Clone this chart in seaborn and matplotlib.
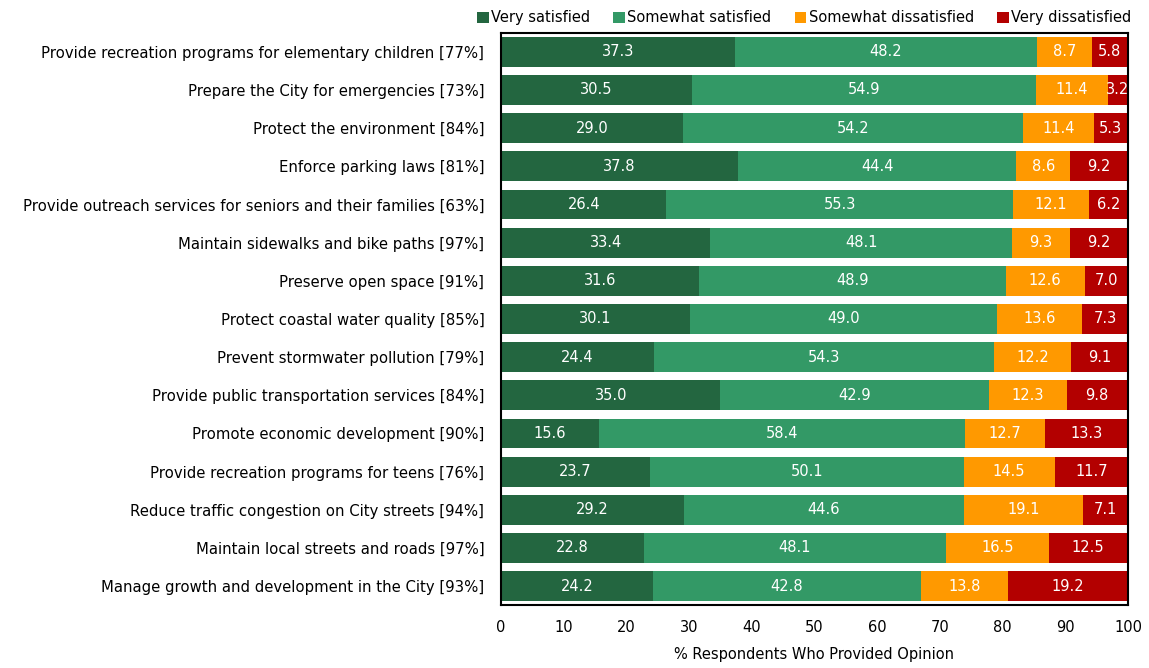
import numpy as np
import pandas as pd
import matplotlib
matplotlib.use("Agg")
import matplotlib.pyplot as plt
import seaborn as sns
from matplotlib.patches import Patch

categories = [
    "Provide recreation programs for elementary children [77%]",
    "Prepare the City for emergencies [73%]",
    "Protect the environment [84%]",
    "Enforce parking laws [81%]",
    "Provide outreach services for seniors and their families [63%]",
    "Maintain sidewalks and bike paths [97%]",
    "Preserve open space [91%]",
    "Protect coastal water quality [85%]",
    "Prevent stormwater pollution [79%]",
    "Provide public transportation services [84%]",
    "Promote economic development [90%]",
    "Provide recreation programs for teens [76%]",
    "Reduce traffic congestion on City streets [94%]",
    "Maintain local streets and roads [97%]",
    "Manage growth and development in the City [93%]",
]
very_satisfied = [37.3, 30.5, 29.0, 37.8, 26.4, 33.4, 31.6, 30.1, 24.4, 35.0, 15.6, 23.7, 29.2, 22.8, 24.2]
somewhat_satisfied = [48.2, 54.9, 54.2, 44.4, 55.3, 48.1, 48.9, 49.0, 54.3, 42.9, 58.4, 50.1, 44.6, 48.1, 42.8]
somewhat_dissatisfied = [8.7, 11.4, 11.4, 8.6, 12.1, 9.3, 12.6, 13.6, 12.2, 12.3, 12.7, 14.5, 19.1, 16.5, 13.8]
very_dissatisfied = [5.8, 3.2, 5.3, 9.2, 6.2, 9.2, 7.0, 7.3, 9.1, 9.8, 13.3, 11.7, 7.1, 12.5, 19.2]

series_names = ["Very satisfied", "Somewhat satisfied", "Somewhat dissatisfied", "Very dissatisfied"]
colors = ["#236640", "#339966", "#ff9900", "#b30000"]
x_ticks = [0, 10, 20, 30, 40, 50, 60, 70, 80, 90, 100]

sns.set_theme(style="white")
plt.rcParams["font.family"] = ["DejaVu Sans"]
plt.rcParams.update({"text.color": "black", "axes.labelcolor": "black",
                     "xtick.color": "black", "ytick.color": "black"})

series = [very_satisfied, somewhat_satisfied, somewhat_dissatisfied, very_dissatisfied]
vals = np.array(series)
cum = np.cumsum(vals, axis=0)

fig = plt.figure(figsize=(11.49, 6.68), dpi=100)
ax = fig.add_axes([0.436, 0.094, 0.5457, 0.857])

# stacked bars: draw cumulative totals from the outermost segment inward
for i in reversed(range(4)):
    df = pd.DataFrame({"category": categories, "value": cum[i]})
    sns.barplot(data=df, x="value", y="category", orient="h", color=colors[i],
                saturation=1, width=0.78, ax=ax, linewidth=0)

for i in range(4):
    left = cum[i] - vals[i]
    for j, v in enumerate(vals[i]):
        ax.text(left[j] + v / 2, j, f"{v:.1f}", ha="center", va="center",
                color="white", fontsize=10.5)

ax.set_xlim(0, 100)
ax.set_ylim(len(categories) - 0.5, -0.5)
ax.set_xticks(x_ticks)
ax.set_xticklabels([str(t) for t in x_ticks], fontsize=10.5)
ax.tick_params(axis="y", labelsize=10.7, length=0, pad=12)
ax.tick_params(axis="x", length=0, pad=11)
ax.set_ylabel("")
ax.set_xlabel("% Respondents Who Provided Opinion", fontsize=10.5, labelpad=8)
for s in ax.spines.values():
    s.set_visible(True)
    s.set_color("black")
    s.set_linewidth(1.5)

handles = [Patch(facecolor=c, edgecolor="none") for c in colors]
ax.legend(handles, series_names, loc="lower right", bbox_to_anchor=(1.017, 1.0),
          ncol=4, frameon=False, fontsize=10.5, handlelength=0.8, handleheight=0.8,
          handletextpad=0.15, columnspacing=1.6, borderaxespad=0.1)

fig.savefig("out.png", dpi=100)
